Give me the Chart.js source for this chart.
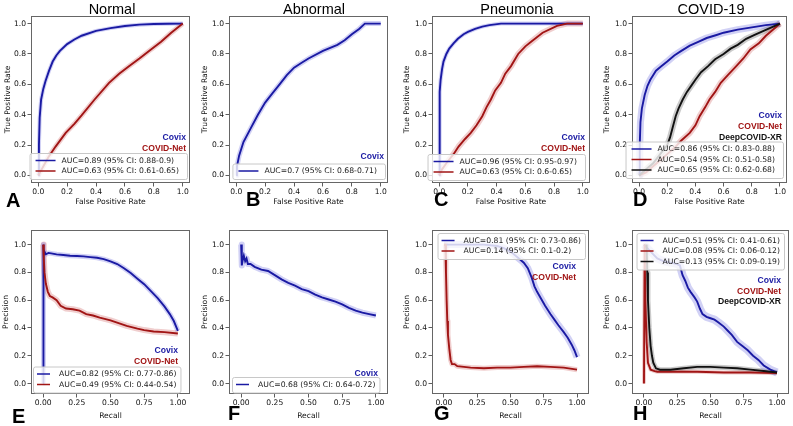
<!DOCTYPE html>
<html>
<head>
<meta charset="utf-8">
<script src="https://cdn.jsdelivr.net/npm/chart.js@4.4.1/dist/chart.umd.min.js"></script>
<style>
  body { margin: 0; background: #fff; width: 793px; height: 426px; overflow: hidden; position: relative; }
  canvas { position: absolute; }
</style>
</head>
<body>
<canvas id="cA"></canvas><canvas id="cB"></canvas><canvas id="cC"></canvas><canvas id="cD"></canvas>
<canvas id="cE"></canvas><canvas id="cF"></canvas><canvas id="cG"></canvas><canvas id="cH"></canvas>
<script>
// ====== DATA ======
const ROC_TICKS = [0, 0.2, 0.4, 0.6, 0.8, 1.0];
const PR_X_TICKS = [0, 0.25, 0.5, 0.75, 1.0];
const PR_Y_TICKS = [0, 0.2, 0.4, 0.6, 0.8, 1.0];
const MODELS = ['Covix', 'COVID-Net', 'DeepCOVID-XR'];

// ROC curves: [false positive rate, true positive rate]
const rocNormalCovix = [[0,0],[0.005,0.2],[0.01,0.38],[0.02,0.5],[0.035,0.57],[0.05,0.62],[0.075,0.69],[0.1,0.75],[0.125,0.79],[0.15,0.82],[0.2,0.865],[0.25,0.895],[0.3,0.92],[0.4,0.952],[0.5,0.97],[0.6,0.984],[0.7,0.993],[0.8,0.997],[0.9,0.999],[1,1]];
const rocNormalCovidNet = [[0,0],[0.03,0.05],[0.07,0.12],[0.12,0.19],[0.19,0.28],[0.25,0.34],[0.3,0.395],[0.39,0.5],[0.49,0.61],[0.56,0.67],[0.63,0.72],[0.7,0.77],[0.78,0.83],[0.85,0.88],[0.92,0.94],[1,1]];
const rocAbnormalCovix = [[0,0],[0.005,0.06],[0.02,0.13],[0.05,0.22],[0.1,0.31],[0.15,0.4],[0.2,0.48],[0.25,0.54],[0.3,0.6],[0.35,0.66],[0.4,0.71],[0.45,0.74],[0.5,0.77],[0.6,0.82],[0.7,0.86],[0.75,0.89],[0.8,0.93],[0.85,0.965],[0.89,1.0],[1,1]];
const rocPneuCovix = [[0,0],[0.002,0.3],[0.005,0.55],[0.01,0.63],[0.02,0.7],[0.03,0.75],[0.05,0.8],[0.07,0.835],[0.1,0.87],[0.13,0.9],[0.17,0.93],[0.2,0.945],[0.25,0.965],[0.3,0.98],[0.35,0.99],[0.43,1.0],[1,1]];
const rocPneuCovidNet = [[0,0],[0.02,0.04],[0.05,0.08],[0.1,0.14],[0.135,0.19],[0.18,0.24],[0.22,0.28],[0.26,0.33],[0.3,0.39],[0.33,0.45],[0.36,0.5],[0.39,0.56],[0.43,0.61],[0.46,0.67],[0.5,0.72],[0.55,0.8],[0.6,0.85],[0.64,0.88],[0.72,0.94],[0.82,0.985],[0.89,1],[1,1]];
const rocCovidCovix = [[0,0],[0.005,0.2],[0.01,0.35],[0.02,0.44],[0.04,0.53],[0.06,0.59],[0.08,0.63],[0.1,0.66],[0.12,0.69],[0.16,0.72],[0.2,0.75],[0.25,0.79],[0.3,0.82],[0.36,0.855],[0.42,0.88],[0.48,0.905],[0.55,0.925],[0.6,0.94],[0.7,0.96],[0.8,0.975],[0.9,0.99],[1,1]];
const rocCovidCovidNet = [[0,0],[0.05,0.02],[0.1,0.06],[0.15,0.1],[0.2,0.14],[0.25,0.18],[0.3,0.23],[0.36,0.28],[0.4,0.33],[0.43,0.39],[0.47,0.45],[0.5,0.5],[0.54,0.55],[0.58,0.61],[0.63,0.66],[0.69,0.72],[0.74,0.77],[0.79,0.83],[0.85,0.87],[0.9,0.92],[0.95,0.96],[1,1]];
const rocCovidDeep = [[0,0],[0.05,0.04],[0.1,0.08],[0.15,0.14],[0.2,0.2],[0.22,0.25],[0.24,0.32],[0.26,0.39],[0.28,0.44],[0.31,0.5],[0.34,0.55],[0.37,0.59],[0.4,0.63],[0.44,0.68],[0.49,0.72],[0.54,0.765],[0.6,0.8],[0.65,0.835],[0.7,0.86],[0.76,0.9],[0.82,0.925],[0.88,0.95],[0.94,0.975],[1,1]];

// Precision-recall curves: [recall, precision]
const prNormalCovix = [[0,0],[0,1],[0.005,0.92],[0.01,0.95],[0.02,0.93],[0.04,0.94],[0.07,0.935],[0.1,0.93],[0.15,0.925],[0.2,0.92],[0.25,0.918],[0.3,0.915],[0.35,0.91],[0.4,0.905],[0.45,0.895],[0.5,0.88],[0.55,0.86],[0.6,0.83],[0.65,0.795],[0.7,0.755],[0.75,0.715],[0.8,0.665],[0.85,0.615],[0.9,0.555],[0.94,0.5],[0.97,0.45],[1,0.38]];
const prNormalCovidNet = [[0,1],[0.005,0.9],[0.01,0.8],[0.02,0.72],[0.035,0.66],[0.05,0.63],[0.07,0.62],[0.1,0.6],[0.13,0.56],[0.17,0.54],[0.22,0.535],[0.27,0.525],[0.32,0.5],[0.37,0.49],[0.42,0.475],[0.5,0.455],[0.56,0.435],[0.62,0.415],[0.7,0.395],[0.75,0.385],[0.82,0.375],[0.9,0.37],[1,0.36]];
const prAbnormalCovix = [[0,1],[0.005,0.85],[0.01,0.88],[0.02,0.92],[0.03,0.88],[0.04,0.9],[0.05,0.86],[0.07,0.86],[0.1,0.84],[0.15,0.82],[0.2,0.81],[0.25,0.78],[0.3,0.75],[0.35,0.725],[0.4,0.705],[0.45,0.68],[0.5,0.665],[0.55,0.64],[0.6,0.62],[0.65,0.605],[0.7,0.59],[0.75,0.57],[0.8,0.545],[0.85,0.525],[0.9,0.51],[0.95,0.5],[1,0.49]];
const prPneuCovix = [[0,1],[0.1,1],[0.2,1],[0.3,1],[0.4,0.99],[0.45,0.975],[0.5,0.95],[0.55,0.91],[0.6,0.87],[0.63,0.83],[0.66,0.76],[0.68,0.7],[0.7,0.66],[0.73,0.61],[0.76,0.56],[0.8,0.5],[0.83,0.46],[0.86,0.42],[0.9,0.37],[0.93,0.33],[0.96,0.28],[0.98,0.24],[1,0.19]];
const prPneuCovidNet = [[0,1],[0.01,1],[0.015,0.8],[0.02,0.6],[0.025,0.45],[0.03,0.35],[0.04,0.25],[0.05,0.17],[0.06,0.14],[0.08,0.14],[0.1,0.125],[0.15,0.12],[0.2,0.115],[0.3,0.11],[0.4,0.115],[0.5,0.115],[0.6,0.12],[0.7,0.125],[0.8,0.12],[0.9,0.115],[1,0.1]];
const prCovidCovix = [[0,1],[0.05,0.95],[0.1,0.9],[0.15,0.88],[0.2,0.87],[0.25,0.86],[0.27,0.85],[0.29,0.78],[0.31,0.74],[0.33,0.69],[0.35,0.66],[0.38,0.62],[0.4,0.59],[0.42,0.54],[0.44,0.5],[0.47,0.48],[0.5,0.47],[0.53,0.46],[0.56,0.44],[0.6,0.41],[0.63,0.38],[0.66,0.35],[0.7,0.3],[0.74,0.27],[0.78,0.24],[0.82,0.2],[0.86,0.17],[0.9,0.13],[0.95,0.1],[1,0.08]];
const prCovidCovidNet = [[0,0],[0.005,1],[0.01,0.6],[0.02,0.3],[0.03,0.15],[0.05,0.1],[0.08,0.09],[0.1,0.085],[0.2,0.085],[0.4,0.085],[0.6,0.08],[0.8,0.08],[1,0.075]];
const prCovidDeep = [[0.02,1],[0.025,0.8],[0.03,0.6],[0.04,0.4],[0.05,0.27],[0.06,0.2],[0.07,0.15],[0.09,0.11],[0.12,0.1],[0.2,0.1],[0.3,0.11],[0.4,0.12],[0.5,0.12],[0.6,0.115],[0.7,0.11],[0.8,0.1],[0.9,0.09],[1,0.08]];

// legend texts
const aucNormalRoc = ['AUC=0.89 (95% CI: 0.88-0.9)', 'AUC=0.63 (95% CI: 0.61-0.65)'];
const aucAbnormalRoc = ['AUC=0.7 (95% CI: 0.68-0.71)'];
const aucPneuRoc = ['AUC=0.96 (95% CI: 0.95-0.97)', 'AUC=0.63 (95% CI: 0.6-0.65)'];
const aucCovidRoc = ['AUC=0.86 (95% CI: 0.83-0.88)', 'AUC=0.54 (95% CI: 0.51-0.58)', 'AUC=0.65 (95% CI: 0.62-0.68)'];
const aucNormalPr = ['AUC=0.82 (95% CI: 0.77-0.86)', 'AUC=0.49 (95% CI: 0.44-0.54)'];
const aucAbnormalPr = ['AUC=0.68 (95% CI: 0.64-0.72)'];
const aucPneuPr = ['AUC=0.81 (95% CI: 0.73-0.86)', 'AUC=0.14 (95% CI: 0.1-0.2)'];
const aucCovidPr = ['AUC=0.51 (95% CI: 0.41-0.61)', 'AUC=0.08 (95% CI: 0.06-0.12)', 'AUC=0.13 (95% CI: 0.09-0.19)'];

// ====== STYLE ======
const COLORS = ['#1a1aa3', '#a11515', '#111111'];
const HALO = ['rgba(70,70,215,0.25)', 'rgba(195,60,60,0.25)', 'rgba(70,70,70,0.28)'];
const SANS = "'DejaVu Sans', sans-serif";
const ARIAL = "'Liberation Sans', Arial, sans-serif";
const LEG_ROC = { padL: 6, handle: 20, gap: 6, padR: 8 };
const LEG_PR = { padL: 4, handle: 13, gap: 9, padR: 4 };

const panels = [
  { id: 'A', left: 0, top: 0, w: 195, h: 213, frame: [31, 16, 190, 183], kind: 'roc', title: 'Normal', titleX: 112, letterX: 6, letterY: 207,
    curves: [rocNormalCovix, rocNormalCovidNet], models: [0, 1], halo: [4, 5], auc: aucNormalRoc, yPad: 3,
    legend: { pos: 'bottom', anchor: 'right', gx: 3, gy: 4 }, labels: { right: 186, base: 140, step: 11 } },
  { id: 'B', left: 195, top: 0, w: 195, h: 213, frame: [229, 16, 388, 183], kind: 'roc', title: 'Abnormal', titleX: 314, letterX: 246, letterY: 206,
    curves: [rocAbnormalCovix], models: [0], halo: [5], auc: aucAbnormalRoc, yPad: 5,
    legend: { pos: 'bottom', anchor: 'right', gx: 3, gy: 4 }, labels: { right: 384, base: 159, step: 11 } },
  { id: 'C', left: 390, top: 0, w: 200, h: 213, frame: [432, 16, 590, 183], kind: 'roc', title: 'Pneumonia', titleX: 517, letterX: 434, letterY: 206,
    curves: [rocPneuCovix, rocPneuCovidNet], models: [0, 1], halo: [4, 6], auc: aucPneuRoc, yPad: 12,
    legend: { pos: 'bottom', anchor: 'right', gx: 5, gy: 3 }, labels: { right: 585, base: 140, step: 11 } },
  { id: 'D', left: 590, top: 0, w: 203, h: 213, frame: [632, 16, 787, 183], kind: 'roc', title: 'COVID-19', titleX: 711, letterX: 633, letterY: 206,
    curves: [rocCovidCovix, rocCovidCovidNet, rocCovidDeep], models: [0, 1, 2], halo: [7, 6, 6], auc: aucCovidRoc, yPad: 12,
    legend: { pos: 'bottom', anchor: 'right', gx: 4, gy: 5 }, labels: { right: 782, base: 118, step: 11 } },
  { id: 'E', left: 0, top: 213, w: 195, h: 213, frame: [31, 230, 190, 394], kind: 'pr', letterX: 12, letterY: 423,
    curves: [prNormalCovix, prNormalCovidNet], models: [0, 1], halo: [5, 6], auc: aucNormalPr, yPad: 1.5,
    legend: { pos: 'bottom', anchor: 'left', gx: 2, gy: 1.5 }, labels: { right: 178, base: 353, step: 11 } },
  { id: 'F', left: 195, top: 213, w: 195, h: 213, frame: [229, 230, 388, 394], kind: 'pr', letterX: 228, letterY: 420,
    curves: [prAbnormalCovix], models: [0], halo: [6], auc: aucAbnormalPr, yPad: 5,
    legend: { pos: 'bottom', anchor: 'left', gx: 3, gy: 1.5 }, labels: { right: 378, base: 376, step: 11 } },
  { id: 'G', left: 390, top: 213, w: 200, h: 213, frame: [432, 230, 589, 394], kind: 'pr', letterX: 434, letterY: 420,
    curves: [prPneuCovix, prPneuCovidNet], models: [0, 1], halo: [7, 5], auc: aucPneuPr, yPad: 12,
    legend: { pos: 'top', anchor: 'right', gx: 4, gy: 3 }, labels: { right: 576, base: 269, step: 11 } },
  { id: 'H', left: 590, top: 213, w: 203, h: 213, frame: [632, 230, 789, 394], kind: 'pr', letterX: 633, letterY: 420,
    curves: [prCovidCovix, prCovidCovidNet, prCovidDeep], models: [0, 1, 2], halo: [8, 4, 5], auc: aucCovidPr, yPad: 12,
    legend: { pos: 'top', anchor: 'right', gx: 5, gy: 3 }, labels: { right: 781, base: 283, step: 10.5 } }
];

// ====== DECORATION PLUGIN (frame, legend, model names, title, letter) ======
function makeDecor(p) {
  const [fl, ft, fr, fb] = p.frame;
  return {
    id: 'decor' + p.id,
    afterDatasetsDraw(chart) {
      const ctx = chart.ctx;
      ctx.save();
      ctx.translate(-p.left, -p.top);
      // frame
      ctx.strokeStyle = '#666';
      ctx.lineWidth = 1;
      ctx.strokeRect(fl + 0.5, ft + 0.5, fr - fl - 1, fb - ft - 1);

      // legend box
      const L = p.kind === 'roc' ? LEG_ROC : LEG_PR;
      ctx.font = '7.7px ' + SANS;
      const tw = Math.max(...p.auc.map(t => ctx.measureText(t).width));
      const bw = L.padL + L.handle + L.gap + tw + L.padR;
      const n = p.auc.length;
      const bh = 5 + n * 10.5;
      const bx = p.legend.anchor === 'right' ? fr - p.legend.gx - bw : fl + p.legend.gx;
      const by = p.legend.pos === 'bottom' ? fb - p.legend.gy - bh : ft + p.legend.gy;
      ctx.beginPath();
      ctx.roundRect(bx + 0.5, by + 0.5, bw, bh, 2);
      ctx.fillStyle = 'rgba(255,255,255,0.8)';
      ctx.fill();
      ctx.strokeStyle = '#c8c8c8';
      ctx.stroke();
      p.auc.forEach((t, i) => {
        const cy = by + 7.5 + i * 10.5;
        ctx.beginPath();
        ctx.moveTo(bx + L.padL, cy);
        ctx.lineTo(bx + L.padL + L.handle, cy);
        ctx.strokeStyle = COLORS[p.models[i]];
        ctx.lineWidth = 1.5;
        ctx.stroke();
        ctx.fillStyle = '#1a1a1a';
        ctx.textBaseline = 'middle';
        ctx.textAlign = 'left';
        ctx.fillText(t, bx + L.padL + L.handle + L.gap, cy + 0.5);
      });

      // model names
      ctx.font = 'bold 8.6px ' + ARIAL;
      ctx.textAlign = 'right';
      ctx.textBaseline = 'alphabetic';
      p.models.forEach((m, i) => {
        ctx.fillStyle = COLORS[m];
        ctx.fillText(MODELS[m], p.labels.right, p.labels.base + i * p.labels.step);
      });
      ctx.restore();
    },
    afterDraw(chart) {
      const ctx = chart.ctx;
      ctx.save();
      ctx.translate(-p.left, -p.top);
      if (p.title) {
        ctx.font = '14.5px ' + ARIAL;
        ctx.fillStyle = '#000';
        ctx.textAlign = 'center';
        ctx.textBaseline = 'alphabetic';
        ctx.fillText(p.title, p.titleX, 13.5);
      }
      ctx.font = 'bold 20px ' + ARIAL;
      ctx.fillStyle = '#000';
      ctx.textAlign = 'left';
      ctx.textBaseline = 'alphabetic';
      ctx.fillText(p.id, p.letterX, p.letterY);
      ctx.restore();
    }
  };
}

// ====== CHARTS ======
function makeChart(p) {
  const cv = document.getElementById('c' + p.id);
  cv.width = p.w;
  cv.height = p.h;
  cv.style.left = p.left + 'px';
  cv.style.top = p.top + 'px';
  const [fl, ft, fr, fb] = p.frame;
  const isRoc = p.kind === 'roc';

  const datasets = [];
  p.curves.forEach((pts, i) => {
    const m = p.models[i];
    const data = pts.map(d => ({ x: d[0], y: d[1] }));
    datasets.push({ data, showLine: true, borderColor: COLORS[m], borderWidth: 1.9, pointRadius: 0, order: 3 - m, clip: 0 });
    datasets.push({ data, showLine: true, borderColor: HALO[m], borderWidth: p.halo[i], pointRadius: 0, order: 10 + m, clip: 0, borderJoinStyle: 'round' });
  });

  const tickFont = { family: SANS, size: 7.6 };
  const titleFont = { family: SANS, size: 7.6 };
  const xTicks = isRoc ? ROC_TICKS : PR_X_TICKS;
  const yTicks = isRoc ? ROC_TICKS : PR_Y_TICKS;

  new Chart(cv, {
    type: 'scatter',
    data: { datasets },
    options: {
      responsive: false,
      animation: false,
      devicePixelRatio: 1,
      events: [],
      layout: { padding: { top: ft - p.top, right: p.left + p.w - fr, left: 0, bottom: 0 } },
      plugins: { legend: { display: false }, tooltip: { enabled: false } },
      scales: {
        x: {
          type: 'linear',
          min: isRoc ? -0.05 : -0.09,
          max: isRoc ? 1.05 : 1.09,
          afterBuildTicks: s => { s.ticks = xTicks.map(v => ({ value: v })); },
          afterFit: s => { s.height = p.top + p.h - fb; },
          ticks: { callback: v => v.toFixed(isRoc ? 1 : 2), font: tickFont, color: '#111', padding: isRoc ? 1 : 1, maxRotation: 0, autoSkip: false },
          grid: { drawOnChartArea: false, drawTicks: true, tickLength: 3.5, color: '#333', lineWidth: 0.8 },
          border: { display: false },
          title: { display: true, text: isRoc ? 'False Positive Rate' : 'Recall', font: titleFont, color: '#111', padding: { top: 0, bottom: isRoc ? 6 : 5 } }
        },
        y: {
          type: 'linear',
          min: isRoc ? -0.05 : -0.075,
          max: isRoc ? 1.05 : 1.105,
          afterBuildTicks: s => { s.ticks = yTicks.map(v => ({ value: v })); },
          afterFit: s => { s.width = fl - p.left; },
          ticks: { callback: v => v.toFixed(1), font: tickFont, color: '#111', padding: 1.5, autoSkip: false },
          grid: { drawOnChartArea: false, drawTicks: true, tickLength: 3.5, color: '#333', lineWidth: 0.8 },
          border: { display: false },
          title: { display: true, text: isRoc ? 'True Positive Rate' : 'Precision', font: titleFont, color: '#111', padding: { top: p.yPad, bottom: 0 } }
        }
      }
    },
    plugins: [makeDecor(p)]
  });
}

panels.forEach(makeChart);
</script>
</body>
</html>
